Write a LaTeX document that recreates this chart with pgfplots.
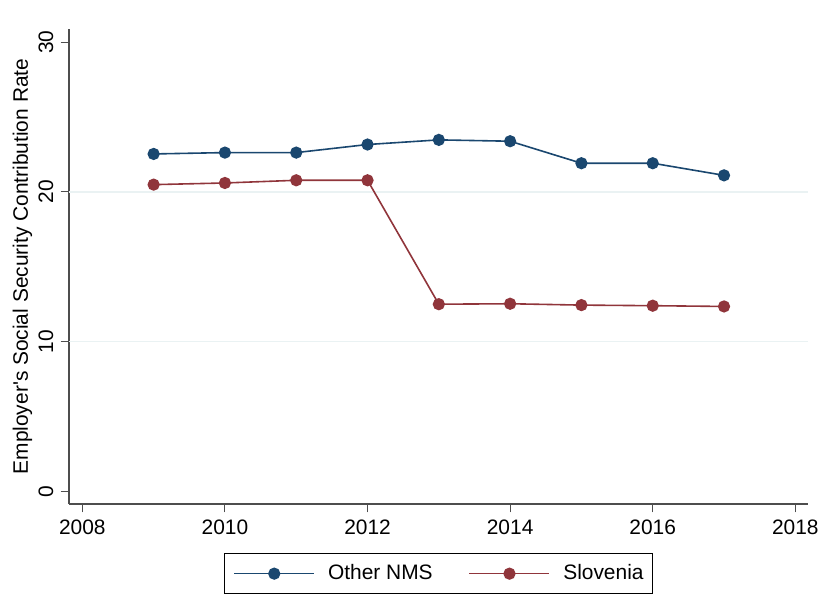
\documentclass[border=0pt]{standalone}
\usepackage{pgfplots}
\pgfplotsset{compat=1.18}
\usepackage{fontspec}
\setmainfont{Liberation Sans}
\definecolor{navy}{HTML}{1A476F}
\definecolor{maroon}{HTML}{90353B}
\definecolor{gridc}{HTML}{EAF2F3}
\definecolor{axc}{HTML}{4D4D4D}
\begin{document}
\fontsize{21}{25}\selectfont
\begin{tikzpicture}[x=1bp,y=1bp]
\path[use as bounding box] (0,0) rectangle (821,616);
\begin{axis}[
 at={(69bp,112bp)}, anchor=south west,
 scale only axis, width=739bp, height=475bp,
 xmin=2007.813, xmax=2018.178, ymin=-0.85, ymax=30.89,
 axis x line=bottom, axis y line=left,
 axis line style={axc, line width=1.3bp, -},
 xtick={2008,2010,...,2018}, ytick={0,10,20,30},
 tick align=outside, major tick length=8.5bp,
 tick style={axc, line width=1bp},
 /pgf/number format/1000 sep={},
 /pgf/number format/assume math mode=true,
 ticklabel style={font=\fontsize{21}{25}\selectfont, inner sep=0pt},
 xticklabel style={anchor=north},
 yticklabel style={rotate=90, anchor=south},
 xticklabel shift=7.5bp, yticklabel shift=7bp,
 extra y ticks={10,20}, extra y tick labels={},
 extra y tick style={grid=major, major tick length=0pt, major grid style={gridc, line width=1.5bp}},
 ylabel={Employer\textquotesingle s Social Security Contribution Rate},
 ylabel style={at={(axis description cs:-0.0555,0.5)}, anchor=base, font=\fontsize{21}{25}\selectfont},
 legend style={at={(0.5,-0.1032)}, anchor=north, draw=black, line width=1bp,
   font=\fontsize{21}{25}\selectfont, inner xsep=9bp, inner ysep=11bp,
   nodes={inner sep=0pt},
   /tikz/every odd column/.append style={column sep=13bp},
   /tikz/every even column/.append style={column sep=36bp}},
 legend columns=2,
 legend image code/.code={\draw[mark repeat=2,mark phase=2] plot coordinates {(0bp,0bp) (40bp,0bp) (80bp,0bp)};},
 every axis plot/.append style={line width=1.6bp, mark=*, mark size=5.3bp},
]
\addplot[navy, mark options={fill=navy, draw=navy}] coordinates {
(2009,22.54) (2010,22.63) (2011,22.63) (2012,23.17) (2013,23.48) (2014,23.39) (2015,21.92) (2016,21.92) (2017,21.11)};
\addlegendentry{Other NMS}
\addplot[maroon, mark options={fill=maroon, draw=maroon}] coordinates {
(2009,20.49) (2010,20.60) (2011,20.78) (2012,20.78) (2013,12.50) (2014,12.53) (2015,12.44) (2016,12.40) (2017,12.35)};
\addlegendentry{Slovenia}
\end{axis}
\end{tikzpicture}
\end{document}
